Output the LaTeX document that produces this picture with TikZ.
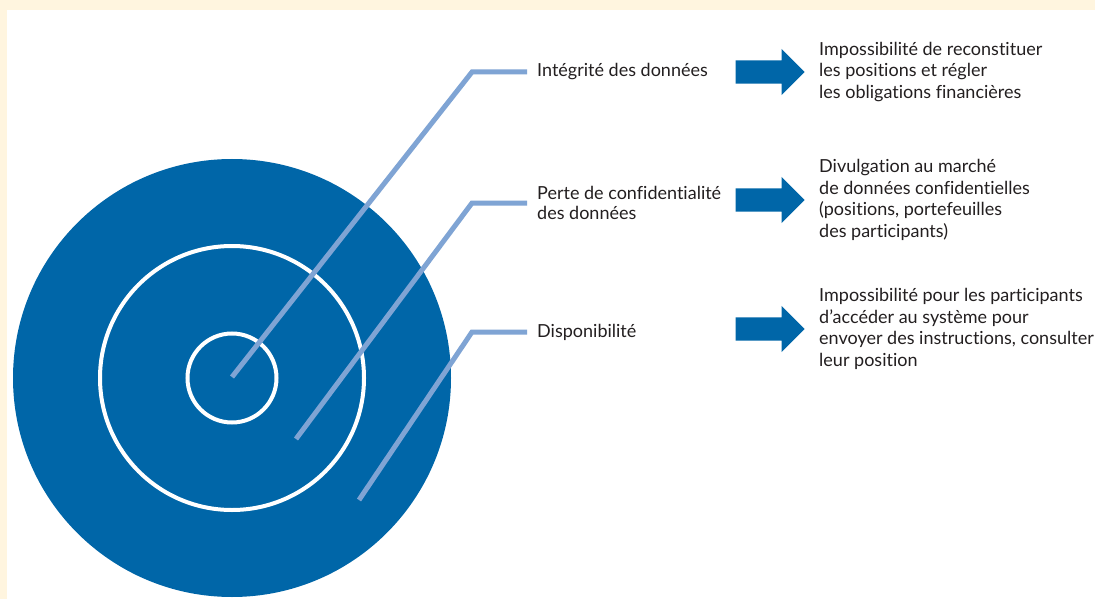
\documentclass[tikz,border=0pt]{standalone}
\usepackage{fontspec}
\setmainfont{Lato}[Ligatures=NoCommon]
\usetikzlibrary{shapes,arrows,positioning}

\definecolor{ringblue}{RGB}{0,102,168}
\definecolor{leaderblue}{RGB}{127,164,212}
\definecolor{paper}{RGB}{255,245,223}
\definecolor{inkgray}{RGB}{35,31,32}

\begin{document}
\begin{tikzpicture}[x=1pt, y=-1pt, node distance=14pt, text=inkgray]
  \tikzstyle{risk} = [anchor=west, align=left, inner sep=0pt,
    font=\fontsize{18}{20}\selectfont]
  \tikzstyle{effect} = [align=left, inner sep=0pt,
    font=\fontsize{18}{21.5}\selectfont]
  \tikzstyle{bigarrow} = [single arrow, draw=none, fill=ringblue, anchor=tip,
    minimum height=69pt, inner xsep=0pt, inner ysep=11.5pt,
    single arrow head extend=11.5pt, single arrow head indent=0pt]
  \tikzstyle{leader} = [draw=leaderblue, line width=5pt, shorten >=10pt]
  \tikzstyle{ring} = [draw=white, line width=4pt]

  % Background
  \useasboundingbox (0,0) rectangle (1095,599);
  \fill [paper] (0,0) rectangle (1095,599);
  \fill [white] (7,10) rectangle (1095,599);

  % Target
  \coordinate (core) at (232,378);
  \fill [ringblue] (core) circle (219pt);
  \draw [ring] (core) circle (132pt);
  \draw [ring] (core) circle (44.5pt);

  % Place nodes
  \node [risk] (integ) at (537,72) {Intégrité des données};
  \node [risk] (confid) at (537,203) {Perte de confidentialité\\des données};
  \node [risk] (dispo) at (537,332) {Disponibilité};

  \node [bigarrow] (arrint) at (805,72) {};
  \node [bigarrow] (arrconf) at (805,200) {};
  \node [bigarrow] (arrdisp) at (805,329) {};

  \node [effect, right=of arrint] (effint) {Impossibilité de reconstituer\\les
    positions et régler\\les obligations financières};
  \node [effect, right=of arrconf] (effconf) {Divulgation au marché\\de
    données confidentielles\\(positions, portefeuilles\\des participants)};
  \node [effect, right=of arrdisp] (effdisp) {Impossibilité pour les
    participants\\d’accéder au système pour\\envoyer des instructions,
    consulter\\leur position};

  % Draw leaders
  \coordinate (ptinteg) at (232,377);
  \coordinate (ptconf) at (296,439);
  \coordinate (ptdisp) at (359,500);
  \coordinate (kinteg) at (472,72);
  \coordinate (kconf) at (472,203);
  \coordinate (kdisp) at (472,332);
  \draw [leader] (ptinteg) -- (kinteg) -- (integ.west);
  \draw [leader] (ptconf) -- (kconf) -- (confid.west);
  \draw [leader] (ptdisp) -- (kdisp) -- (dispo.west);
\end{tikzpicture}
\end{document}
